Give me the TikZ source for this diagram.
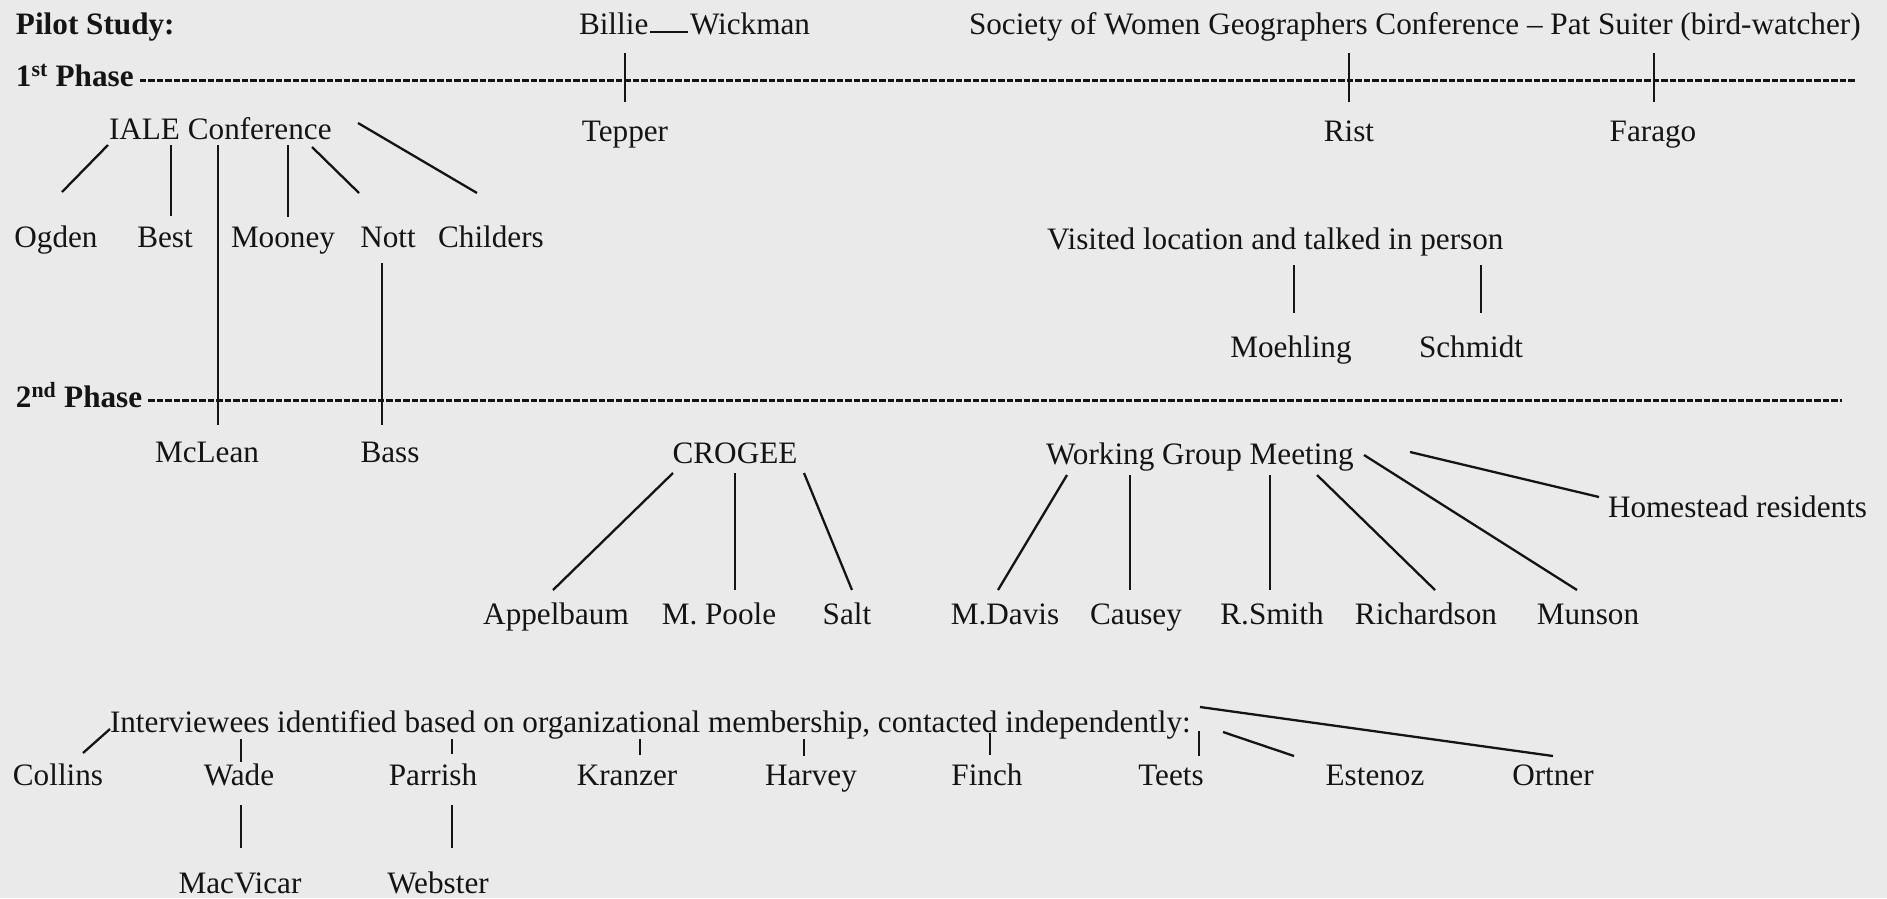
\documentclass[tikz,border=0pt]{standalone}
\usepackage{fontspec}
\setmainfont{Liberation Serif}
\usetikzlibrary{calc}
\definecolor{paper}{HTML}{EAEAEA}
\definecolor{ink}{HTML}{141414}
\begin{document}
\begin{tikzpicture}[x=1pt,y=-1pt,
  every node/.style={inner sep=0pt, outer sep=0pt, text=ink},
  lbl/.style={anchor=base, font=\fontsize{31.2}{37}\selectfont},
  lblw/.style={anchor=base west, font=\fontsize{31.2}{37}\selectfont},
  head/.style={anchor=base west, font=\fontsize{31.2}{37}\selectfont\bfseries},
  link/.style={draw=ink, line width=2.3pt},
  timeline/.style={draw=ink, line width=3pt, dash pattern=on 6.5pt off 2pt}]

% page
\fill[paper] (0,0) rectangle (1887,898);
\useasboundingbox (0,0) rectangle (1887,898);

% ---------- first phase ----------
\node[head] (pilot) at (16,34) {Pilot Study:};
\node[head] (phase1) at (16,86) {1\textsuperscript{st} Phase};
\coordinate (p1end) at (1856,80);
\draw[timeline] ($(phase1.base east)+(6,-6)$) -- (p1end);

\node[lblw] (billie) at (579,34) {Billie};
\node[lblw] (wickman) at (690,34) {Wickman};
\draw[link] ($(billie.base east)+(2,-2)$) -- ($(wickman.base west)+(-2,-2)$);
\node[lblw] (swg) at (969,34) {Society of Women Geographers Conference -- Pat Suiter (bird-watcher)};

\node[lbl] (tepper) at (625,141) {Tepper};
\node[lbl] (rist) at (1349,141) {Rist};
\node[lbl] (farago) at (1653,141) {Farago};
\draw[link] ($(tepper.base)+(0,-88)$) -- ($(tepper.base)+(0,-39)$);
\draw[link] ($(rist.base)+(0,-88)$) -- ($(rist.base)+(0,-39)$);
\draw[link] ($(farago.base)+(1,-88)$) -- ($(farago.base)+(1,-39)$);

% IALE conference group
\node[lblw] (iale) at (109,139) {IALE Conference};
\node[lbl] (ogden) at (56,247) {Ogden};
\node[lbl] (best) at (165,247) {Best};
\node[lbl] (mooney) at (283,247) {Mooney};
\node[lbl] (nott) at (388,247) {Nott};
\node[lbl] (childers) at (491,247) {Childers};
\draw[link] ($(iale.base west)+(-1,6)$) -- ($(ogden.base)+(6,-55)$);
\draw[link] ($(iale.base west)+(62,6)$) -- ($(best.base)+(6,-31)$);
\draw[link] ($(iale.base west)+(179,6)$) -- ($(mooney.base)+(5,-30)$);
\draw[link] ($(iale.base west)+(203,8)$) -- ($(nott.base)+(-29,-54)$);
\draw[link] ($(iale.base west)+(249,-16)$) -- ($(childers.base)+(-14,-54)$);

% visited in person
\node[lblw] (visited) at (1047,249) {Visited location and talked in person};
\node[lbl] (moehling) at (1291,357) {Moehling};
\node[lbl] (schmidt) at (1471,357) {Schmidt};
\draw[link] ($(visited.base west)+(247,16)$) -- ($(moehling.base)+(3,-44)$);
\draw[link] ($(visited.base west)+(434,16)$) -- ($(schmidt.base)+(10,-44)$);

% ---------- second phase ----------
\node[head] (phase2) at (16,407) {2\textsuperscript{nd} Phase};
\coordinate (p2end) at (1842,400);
\draw[timeline] ($(phase2.base east)+(6,-7)$) -- (p2end);

\node[lbl] (mclean) at (207,462) {McLean};
\node[lbl] (bass) at (390,462) {Bass};
\draw[link] ($(iale.base west)+(109,6)$) -- ($(mclean.base)+(11,-37)$);
\draw[link] ($(nott.base)+(-6,16)$) -- ($(bass.base)+(-8,-37)$);

% CROGEE
\node[lbl] (crogee) at (735,463) {CROGEE};
\node[lbl] (appelbaum) at (556,624) {Appelbaum};
\node[lbl] (mpoole) at (719,624) {M. Poole};
\node[lbl] (salt) at (847,624) {Salt};
\draw[link] ($(crogee.base)+(-62,10)$) -- ($(appelbaum.base)+(-3,-34)$);
\draw[link] ($(crogee.base)+(0,10)$) -- ($(mpoole.base)+(16,-34)$);
\draw[link] ($(crogee.base)+(69,10)$) -- ($(salt.base)+(5,-34)$);

% working group meeting
\node[lblw] (wgm) at (1046,464) {Working Group Meeting};
\node[lblw] (homestead) at (1608,517) {Homestead residents};
\node[lbl] (mdavis) at (1005,624) {M.Davis};
\node[lbl] (causey) at (1136,624) {Causey};
\node[lbl] (rsmith) at (1272,624) {R.Smith};
\node[lbl] (richardson) at (1426,624) {Richardson};
\node[lbl] (munson) at (1588,624) {Munson};
\draw[link] ($(wgm.base west)+(21,11)$) -- ($(mdavis.base)+(-7,-34)$);
\draw[link] ($(wgm.base west)+(84,11)$) -- ($(causey.base)+(-6,-34)$);
\draw[link] ($(wgm.base west)+(224,11)$) -- ($(rsmith.base)+(-2,-34)$);
\draw[link] ($(wgm.base west)+(271,11)$) -- ($(richardson.base)+(9,-34)$);
\draw[link] ($(wgm.base west)+(318,-9)$) -- ($(munson.base)+(-11,-34)$);
\draw[link] ($(wgm.base west)+(364,-12)$) -- ($(homestead.base west)+(-9,-20)$);

% ---------- independent contacts ----------
\node[lblw] (indep) at (110,732) {Interviewees identified based on organizational membership, contacted independently:};
\node[lbl] (collins) at (58,785) {Collins};
\node[lbl] (wade) at (239,785) {Wade};
\node[lbl] (parrish) at (433,785) {Parrish};
\node[lbl] (kranzer) at (627,785) {Kranzer};
\node[lbl] (harvey) at (811,785) {Harvey};
\node[lbl] (finch) at (987,785) {Finch};
\node[lbl] (teets) at (1171,785) {Teets};
\node[lbl] (estenoz) at (1375,785) {Estenoz};
\node[lbl] (ortner) at (1553,785) {Ortner};
\node[lbl] (macvicar) at (240,893) {MacVicar};
\node[lbl] (webster) at (438,893) {Webster};
\draw[link] ($(indep.base west)+(0,-3)$) -- ($(collins.base)+(25,-32)$);
\draw[link] ($(indep.base west)+(131,7)$) -- ($(wade.base)+(2,-23)$);
\draw[link] ($(indep.base west)+(342,7)$) -- ($(parrish.base)+(19,-31)$);
\draw[link] ($(indep.base west)+(530,7)$) -- ($(kranzer.base)+(13,-30)$);
\draw[link] ($(indep.base west)+(694,7)$) -- ($(harvey.base)+(-7,-29)$);
\draw[link] ($(indep.base west)+(880,1)$) -- ($(finch.base)+(3,-30)$);
\draw[link] ($(indep.base west)+(1089,-1)$) -- ($(teets.base)+(28,-29)$);
\draw[link] ($(indep.base west)+(1113,0)$) -- ($(estenoz.base)+(-81,-29)$);
\draw[link] ($(indep.base west)+(1090,-25)$) -- ($(ortner.base)+(0,-29)$);
\draw[link] ($(wade.base)+(2,20)$) -- ($(macvicar.base)+(1,-45)$);
\draw[link] ($(parrish.base)+(19,20)$) -- ($(webster.base)+(14,-45)$);
\end{tikzpicture}
\end{document}
